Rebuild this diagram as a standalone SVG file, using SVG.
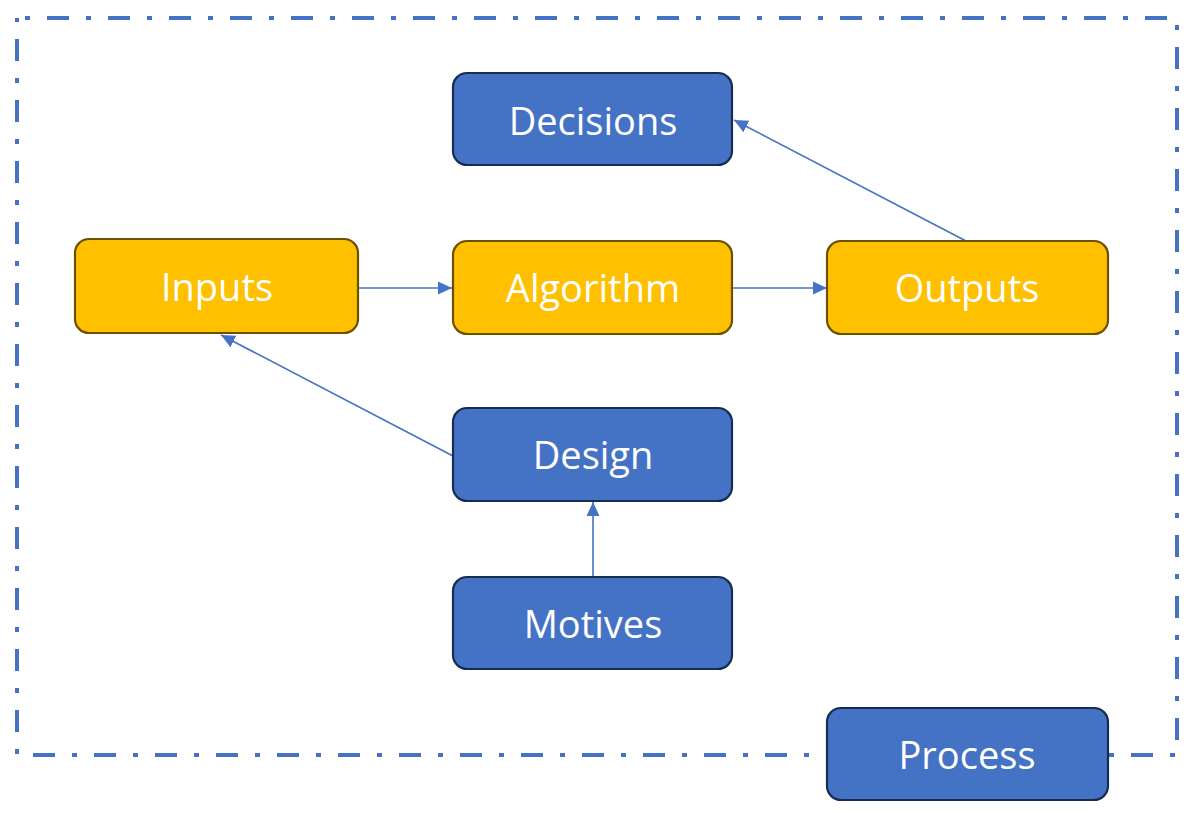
<svg xmlns="http://www.w3.org/2000/svg" width="1200" height="814" viewBox="0 0 1200 814">
<defs>
<style>
.blue rect{fill:#4472C4;stroke:#172C51;stroke-width:2.2}
.orange rect{fill:#FFC000;stroke:#6B5000;stroke-width:2.2}
text{font-family:"Open Sans","Liberation Sans",sans-serif;font-size:38px;fill:#FFFFFF;text-anchor:middle}
.conn line{stroke:#4472C4;stroke-width:1.6;fill:none}
.frame{fill:none;stroke:#4472C4;stroke-width:4;stroke-dasharray:5 17 22 17;stroke-dashoffset:53}
</style>
<marker id="ah" markerUnits="userSpaceOnUse" markerWidth="16" markerHeight="16" viewBox="0 0 16 16" refX="14" refY="8" orient="auto">
<path d="M0,1.5 L14,8 L0,14.5 Z" fill="#4472C4"/>
</marker>
</defs>
<rect width="1200" height="814" fill="#FFFFFF"/>
<path class="frame" d="M17,18 H1177 V755 H17 Z"/>
<g id="connectors" class="conn">
<line x1="358" y1="288" x2="452" y2="288" marker-end="url(#ah)"/>
<line x1="732" y1="288" x2="827" y2="288" marker-end="url(#ah)"/>
<line x1="966" y1="241" x2="734" y2="120" marker-end="url(#ah)"/>
<line x1="453" y1="456" x2="221" y2="335" marker-end="url(#ah)"/>
<line x1="593" y1="577" x2="593" y2="502" marker-end="url(#ah)"/>
</g>
<g id="decisions" class="blue"><rect x="453" y="73" width="279" height="92" rx="14"/><text x="593" y="135">Decisions</text></g>
<g id="inputs" class="orange"><rect x="75" y="239" width="283" height="94" rx="14"/><text x="217" y="301">Inputs</text></g>
<g id="algorithm" class="orange"><rect x="453" y="241" width="279" height="93" rx="14"/><text x="593" y="302">Algorithm</text></g>
<g id="outputs" class="orange"><rect x="827" y="241" width="281" height="93" rx="14"/><text x="967" y="302">Outputs</text></g>
<g id="design" class="blue"><rect x="453" y="408" width="279" height="93" rx="14"/><text x="593" y="469">Design</text></g>
<g id="motives" class="blue"><rect x="453" y="577" width="279" height="92" rx="14"/><text x="593" y="638">Motives</text></g>
<g id="process" class="blue"><rect x="827" y="708" width="281" height="92" rx="14"/><text x="967" y="769">Process</text></g>
</svg>
